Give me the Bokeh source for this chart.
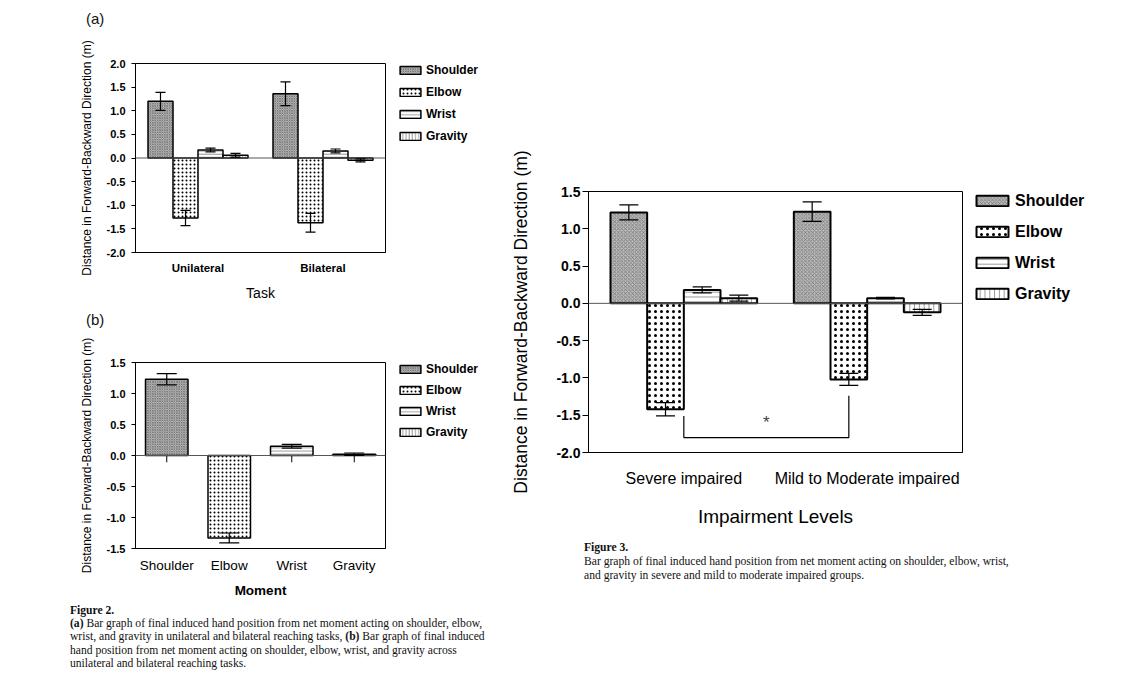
from bokeh.plotting import figure
from bokeh.models import (FactorRange, Range1d, FixedTicker, PrintfTickFormatter, Span, Whisker,
                          TeeHead, ColumnDataSource, Label, Div, Spacer, Legend, LegendItem)
from bokeh.layouts import column, row
from bokeh.transform import dodge
from bokeh.embed import file_html
from bokeh.resources import INLINE

# ---------------- data ----------------
series = ["Shoulder", "Elbow", "Wrist", "Gravity"]
offsets = [-0.3, -0.1, 0.1, 0.3]

# Figure 2 (a): by task
a_tasks = ["Unilateral", "Bilateral"]
a_shoulder = [1.20, 1.36]
a_shoulder_err = [0.19, 0.25]
a_elbow = [-1.27, -1.37]
a_elbow_err = [0.16, 0.20]
a_wrist = [0.17, 0.15]
a_wrist_err = [0.04, 0.04]
a_gravity = [0.06, -0.05]
a_gravity_err = [0.04, 0.03]
a_yticks = [-2.0, -1.5, -1.0, -0.5, 0.0, 0.5, 1.0, 1.5, 2.0]

# Figure 2 (b): by moment
b_moments = ["Shoulder", "Elbow", "Wrist", "Gravity"]
b_means = [1.23, -1.33, 0.15, 0.02]
b_err = [0.09, 0.08, 0.03, 0.02]
b_yticks = [-1.5, -1.0, -0.5, 0.0, 0.5, 1.0, 1.5]

# Figure 3: by impairment level
c_groups = ["Severe impaired", "Mild to Moderate impaired"]
c_shoulder = [1.22, 1.23]
c_shoulder_err = [0.10, 0.13]
c_elbow = [-1.42, -1.02]
c_elbow_err = [0.09, 0.08]
c_wrist = [0.18, 0.07]
c_wrist_err = [0.04, 0.01]
c_gravity = [0.07, -0.12]
c_gravity_err = [0.04, 0.04]
c_yticks = [-2.0, -1.5, -1.0, -0.5, 0.0, 0.5, 1.0, 1.5]
sig_x = [0.5, 0.5, 1.4, 1.4]
sig_y = [-1.51, -1.80, -1.80, -1.24]

FONT = "Liberation Sans"


def styles(scale, dotw):
    return {
        "Shoulder": dict(fill_color="#bdbdbd", hatch_pattern="diagonal_cross", hatch_color="#5e5e5e",
                         hatch_scale=3 * scale, hatch_weight=0.8, hatch_alpha=0.8),
        "Elbow": dict(fill_color="white", hatch_pattern="dot", hatch_color="black",
                      hatch_scale=5 * scale, hatch_weight=dotw),
        "Wrist": dict(fill_color="white", hatch_pattern="horizontal_line", hatch_color="#9a9a9a",
                      hatch_scale=4 * scale, hatch_weight=1),
        "Gravity": dict(fill_color="white", hatch_pattern="vertical_line", hatch_color="#9a9a9a",
                        hatch_scale=4 * scale, hatch_weight=1),
    }


def base_fig(factors, pad, y0, y1, ticks, w, h, bl, br, bt, bb):
    p = figure(x_range=FactorRange(factors=factors, range_padding=pad), y_range=Range1d(y0, y1),
               width=w, height=h, min_border_left=bl, min_border_right=br, min_border_top=bt,
               min_border_bottom=bb, output_backend="svg", toolbar_location=None, tools="")
    p.xgrid.visible = False
    p.ygrid.visible = False
    p.outline_line_color = "black"
    p.outline_line_width = 1
    p.background_fill_color = "white"
    p.border_fill_color = "white"
    p.yaxis.ticker = FixedTicker(ticks=ticks)
    p.yaxis.formatter = PrintfTickFormatter(format="%.1f")
    p.yaxis.minor_tick_line_color = None
    p.yaxis.major_tick_in = 0
    p.yaxis.axis_line_color = "black"
    p.xaxis.major_tick_line_color = None
    p.xaxis.major_tick_out = 0
    p.xaxis.major_tick_in = 0
    p.xaxis.axis_line_color = "black"
    for ax in (p.xaxis, p.yaxis):
        ax.major_label_text_font = FONT
        ax.axis_label_text_font = FONT
        ax.axis_label_text_font_style = "normal"
        ax.major_label_text_color = "black"
        ax.axis_label_text_color = "black"
    p.add_layout(Span(location=0, dimension="width", line_color="#555555", line_width=1))
    return p


def grouped(p, cats, vals, errs, st, lw, cap):
    for s, off, v, e in zip(series, offsets, vals, errs):
        src = ColumnDataSource(dict(cat=cats, top=v,
                                    upper=[a + b for a, b in zip(v, e)],
                                    lower=[a - b for a, b in zip(v, e)]))
        p.vbar(x=dodge("cat", off, range=p.x_range), top="top", width=0.2, source=src,
               line_color="black", line_width=lw, **st[s])
        p.add_layout(Whisker(source=src, base=dodge("cat", off, range=p.x_range), upper="upper",
                             lower="lower", dimension="height", line_color="black", line_width=1.2,
                             level="overlay",
                             upper_head=TeeHead(size=cap, line_color="black", line_width=1.2),
                             lower_head=TeeHead(size=cap, line_color="black", line_width=1.2)))


def legend_fig(w, h, st, lw, left, top, gw, gh, fs, lh, sp, style):
    """A small side figure holding only the legend, next to the chart.
    Its placeholder bars have zero size, so only the legend swatches show."""
    q = figure(width=w, height=h, min_border_left=left, min_border_top=top, min_border_right=0,
               min_border_bottom=0, x_range=Range1d(0, 1), y_range=Range1d(0, 1),
               x_axis_location=None, y_axis_location=None,
               output_backend="svg", toolbar_location=None, tools="")
    q.grid.visible = False
    q.outline_line_color = None
    q.background_fill_color = "white"
    q.border_fill_color = "white"
    items = []
    for s in series:
        r = q.vbar(x=[0], top=[0], bottom=[0], width=0, line_color="black", line_width=lw, **st[s])
        items.append(LegendItem(label=s, renderers=[r]))
    q.add_layout(Legend(items=items, location="top_left",
                        border_line_color=None, background_fill_alpha=0, padding=0, margin=0,
                        glyph_width=gw, glyph_height=gh, label_height=lh, label_standoff=3,
                        spacing=sp, label_text_font=FONT, label_text_font_size=fs,
                        label_text_font_style=style, label_text_color="black",
                        label_text_baseline="middle"))
    return q


def tag(text, h, mleft, mtop):
    return Div(text=(f'<div style="font-family:\'Liberation Sans\'; font-size:15px; line-height:16px; '
                     f'margin-left:{mleft}px; margin-top:{mtop}px; color:#111;">{text}</div>'),
               width=508, height=h, margin=0)


YLAB = "Distance in Forward-Backward Direction (m)"

# ---------------- (a) ----------------
tag_a = tag("(a)", 30, 86, 11)
AW, AH = 387, 278
a_bl, a_br, a_bt, a_bb = 135, 2, 33, 56
sta = styles(0.8, 2.6)
pa = base_fig(a_tasks, 0, -2.0, 2.0, a_yticks, AW, AH, a_bl, a_br, a_bt, a_bb)
grouped(pa, a_tasks, [a_shoulder, a_elbow, a_wrist, a_gravity],
        [a_shoulder_err, a_elbow_err, a_wrist_err, a_gravity_err], sta, 1.5, 10)
la = legend_fig(508 - AW, AH, sta, 1.5, 10, a_bt - 1, 26, 10, "12px", 14, 8, "bold")
pa.yaxis.axis_label = YLAB
pa.yaxis.axis_label_text_font_size = "12px"
pa.yaxis.major_label_text_font_size = "11px"
pa.yaxis.major_label_text_font_style = "bold"
pa.yaxis.major_tick_out = 4
pa.yaxis.major_label_standoff = 6
pa.yaxis.axis_label_standoff = 10
pa.xaxis.axis_label = "Task"
pa.xaxis.axis_label_text_font_size = "14px"
pa.xaxis.major_label_text_font_size = "11.5px"
pa.xaxis.major_label_text_font_style = "bold"
pa.xaxis.major_label_standoff = 9
pa.xaxis.axis_label_standoff = 8

# ---------------- (b) ----------------
tag_b = tag("(b)", 22, 86, 4)
BW, BH = 387, 272
b_bl, b_br, b_bt, b_bb = 135, 2, 32, 54
pb = base_fig(b_moments, 0, -1.5, 1.5, b_yticks, BW, BH, b_bl, b_br, b_bt, b_bb)
pb.segment(x0=b_moments, y0=0, x1=b_moments, y1=-0.11, line_color="black", line_width=1)
stb = styles(0.8, 2.6)
for m, v, e in zip(b_moments, b_means, b_err):
    src = ColumnDataSource(dict(cat=[m], top=[v], upper=[v + e], lower=[v - e]))
    pb.vbar(x="cat", top="top", width=0.68, source=src, line_color="black", line_width=1.5, **stb[m])
    pb.add_layout(Whisker(source=src, base="cat", upper="upper", lower="lower", dimension="height",
                          line_color="black", line_width=1.2, level="overlay",
                          upper_head=TeeHead(size=20, line_color="black", line_width=1.2),
                          lower_head=TeeHead(size=20, line_color="black", line_width=1.2)))
lb = legend_fig(508 - BW, BH, stb, 1.5, 10, b_bt - 1, 26, 10, "12px", 14, 7, "bold")
pb.yaxis.axis_label = YLAB
pb.yaxis.axis_label_text_font_size = "12px"
pb.yaxis.major_label_text_font_size = "11px"
pb.yaxis.major_label_text_font_style = "bold"
pb.yaxis.major_tick_out = 4
pb.yaxis.major_label_standoff = 6
pb.yaxis.axis_label_standoff = 10
pb.xaxis.axis_label = "Moment"
pb.xaxis.axis_label_text_font_size = "13.5px"
pb.xaxis.axis_label_text_font_style = "bold"
pb.xaxis.major_label_text_font_size = "13.5px"
pb.xaxis.major_label_standoff = 9
pb.xaxis.axis_label_standoff = 7

# ---------------- Figure 3 ----------------
CW, CH = 456, 395
c_bl, c_br, c_bt, c_bb = 77, 2, 51, 83
stc = styles(1.2, 3.4)
pc = base_fig(c_groups, 0.02, -2.0, 1.5, c_yticks, CW, CH, c_bl, c_br, c_bt, c_bb)
grouped(pc, c_groups, [c_shoulder, c_elbow, c_wrist, c_gravity],
        [c_shoulder_err, c_elbow_err, c_wrist_err, c_gravity_err], stc, 2, 19)
pc.line(x=sig_x, y=sig_y, line_color="black", line_width=1.2)
pc.add_layout(Label(x=(sig_x[0] + sig_x[-1]) / 2, y=-1.60, text="*", text_font=FONT,
                    text_font_size="17px", text_align="center", text_baseline="middle"))
lc = legend_fig(610 - CW, CH, stc, 2, 8, c_bt - 10, 40, 13, "16px", 19, 12, "bold")
pc.yaxis.axis_label = YLAB
pc.yaxis.axis_label_text_font_size = "17.5px"
pc.yaxis.major_label_text_font_size = "14px"
pc.yaxis.major_label_text_font_style = "bold"
pc.yaxis.major_tick_out = 6
pc.yaxis.major_label_standoff = 2
pc.yaxis.axis_label_standoff = 22
pc.xaxis.axis_label = "Impairment Levels"
pc.xaxis.axis_label_text_font_size = "19px"
pc.xaxis.major_label_text_font_size = "16px"
pc.xaxis.major_label_standoff = 17
pc.xaxis.axis_label_standoff = 16

# ---------------- captions ----------------
CAP = ("font-family:'Liberation Serif'; font-size:11.6px; "
       "white-space:nowrap; color:#111;")
cap2 = Div(text=(f'<div style="{CAP} line-height:13.2px; margin-left:70px; margin-top:2px;">'
                 '<b>Figure 2.</b><br>'
                 '<b>(a)</b> Bar graph of final induced hand position from net moment acting on shoulder, elbow,<br>'
                 'wrist, and gravity in unilateral and bilateral reaching tasks, <b>(b)</b> Bar graph of final induced<br>'
                 'hand position from net moment acting on shoulder, elbow, wrist, and gravity across<br>'
                 'unilateral and bilateral reaching tasks.</div>'),
           width=508, height=70, margin=0)
cap3 = Div(text=(f'<div style="{CAP} line-height:14.2px; margin-left:76px; margin-top:6px;">'
                 '<b>Figure 3.</b><br>'
                 'Bar graph of final induced hand position from net moment acting on shoulder, elbow, wrist,<br>'
                 'and gravity in severe and mild to moderate impaired groups.</div>'),
           width=610, height=52, margin=0)

left = column(tag_a, row(pa, la, spacing=0), tag_b, row(pb, lb, spacing=0), cap2, spacing=0)
right = column(Spacer(width=610, height=140), row(pc, lc, spacing=0), cap3, spacing=0)
page = row(left, right, spacing=0)

open("out.html", "w").write(file_html(page, INLINE))
